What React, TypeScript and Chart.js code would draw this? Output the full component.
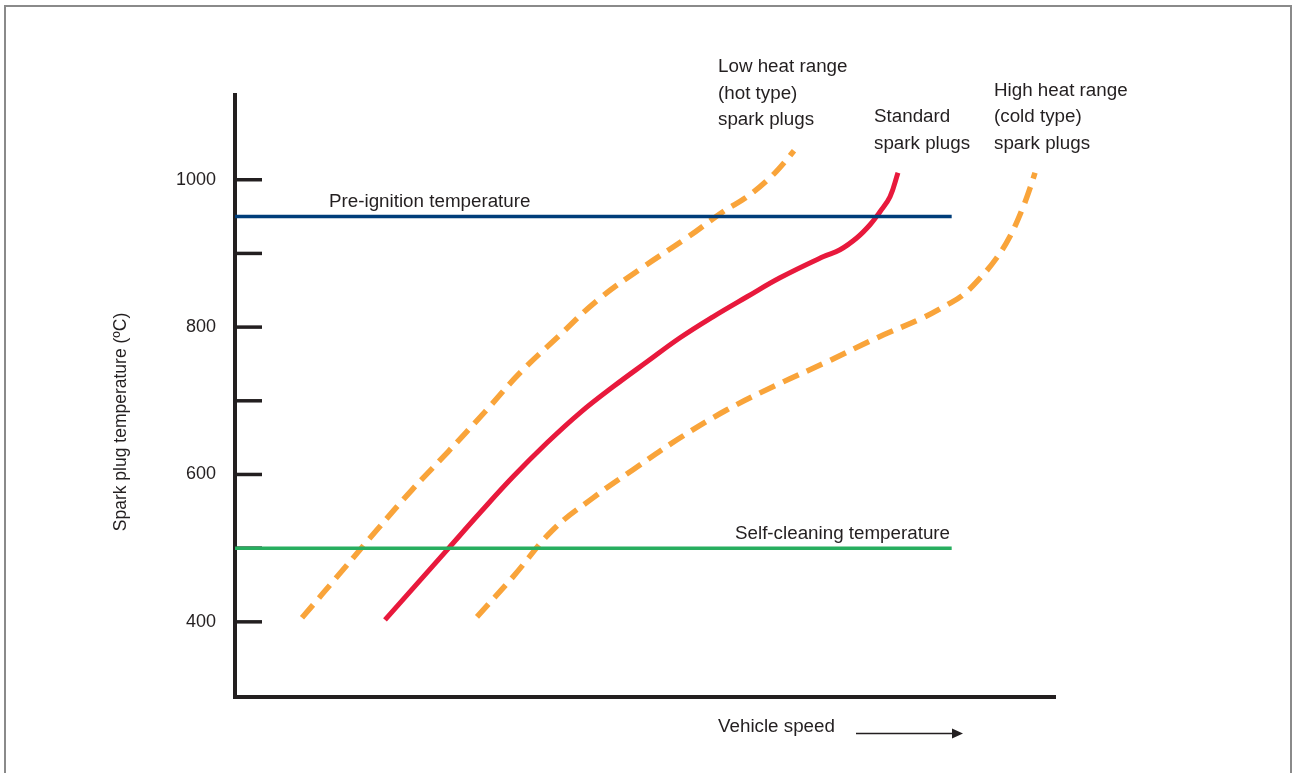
import React, { useEffect, useRef } from "react";
import { Chart, registerables } from "chart.js";

Chart.register(...registerables);

// ---- Data (speed in arbitrary units 0–100, temperature in °C) ----
const lowHeatSpeed = [8.17, 13.17, 17.32, 21.59, 25.98, 30.49, 34.76, 39.39, 44.27, 49.63, 55.12, 59.51, 62.44, 65.24, 67.07, 68.17];
const lowHeatTemp = [405.5, 470.6, 524.9, 579.2, 630.8, 685.1, 738.0, 786.9, 837.1, 880.5, 921.3, 956.6, 976.9, 1002.7, 1024.4, 1039.4];

const standardSpeed = [18.29, 25.98, 29.88, 33.9, 38.05, 42.07, 46.1, 50.24, 54.27, 58.29, 62.44, 66.46, 71.71, 73.78, 75.85, 77.44, 78.66, 79.88, 80.85];
const standardTemp = [402.7, 499.1, 548.0, 596.8, 643.0, 683.7, 719.0, 752.9, 785.5, 814.0, 841.2, 867.0, 895.5, 905.0, 921.3, 938.9, 956.6, 976.9, 1009.5];

const highHeatSpeed = [29.51, 33.9, 38.78, 43.66, 48.54, 53.9, 60.0, 66.1, 72.2, 78.29, 83.9, 86.8, 88.8, 90.9, 92.9, 94.5, 95.98, 97.0, 97.56];
const highHeatTemp = [406.8, 461.1, 524.9, 568.3, 606.4, 647.1, 687.8, 721.7, 752.9, 785.5, 812.7, 830.0, 843.9, 867.0, 894.1, 923.0, 959.3, 990.0, 1009.5];

const preIgnitionSpeed = [0, 87.4];
const preIgnitionTemp = [950, 950];
const selfCleaningSpeed = [0, 87.4];
const selfCleaningTemp = [500, 500];

const yTickValues = [400, 500, 600, 700, 800, 900, 1000];
const yLabeledTicks = [400, 600, 800, 1000];

const pts = (xs: number[], ys: number[]) => xs.map((x, i) => ({ x, y: ys[i] }));

const FONT = '"Liberation Sans", Arial, Helvetica, sans-serif';
const INK = "#231f20";

const decorPlugin = {
  id: "decor",
  beforeDatasetsDraw(chart: any) {
    const { ctx, chartArea, scales } = chart;
    const y = scales.y;
    ctx.save();
    ctx.strokeStyle = INK;
    ctx.lineWidth = 3.5;
    yTickValues.forEach((v) => {
      const py = y.getPixelForValue(v);
      ctx.beginPath();
      ctx.moveTo(chartArea.left, py);
      ctx.lineTo(chartArea.left + 27, py);
      ctx.stroke();
    });
    ctx.restore();
  },
  afterDraw(chart: any) {
    const { ctx } = chart;
    ctx.save();
    ctx.fillStyle = INK;
    ctx.font = `18.8px ${FONT}`;
    ctx.textAlign = "left";
    ctx.textBaseline = "alphabetic";
    const texts: [string, number, number][] = [
      ["Pre-ignition temperature", 329, 207],
      ["Self-cleaning temperature", 735, 539],
      ["Low heat range", 718, 72],
      ["(hot type)", 718, 98.5],
      ["spark plugs", 718, 125],
      ["Standard", 874, 122],
      ["spark plugs", 874, 148.5],
      ["High heat range", 994, 96],
      ["(cold type)", 994, 122],
      ["spark plugs", 994, 148.5],
      ["Vehicle speed", 718, 732],
    ];
    texts.forEach(([t, x, yy]) => ctx.fillText(t, x, yy));

    // y-axis title
    ctx.save();
    ctx.font = `17.5px ${FONT}`;
    ctx.translate(121, 422);
    ctx.rotate(-Math.PI / 2);
    ctx.textAlign = "center";
    ctx.textBaseline = "middle";
    ctx.fillText("Spark plug temperature (ºC)", 0, 0);
    ctx.restore();

    // arrow
    ctx.strokeStyle = INK;
    ctx.lineWidth = 1.5;
    ctx.beginPath();
    ctx.moveTo(856, 733.5);
    ctx.lineTo(954, 733.5);
    ctx.stroke();
    ctx.beginPath();
    ctx.moveTo(963, 733.5);
    ctx.lineTo(952, 728.5);
    ctx.lineTo(952, 738.5);
    ctx.closePath();
    ctx.fill();
    ctx.restore();
  },
};

export default function App() {
  const canvasRef = useRef<HTMLCanvasElement | null>(null);

  useEffect(() => {
    const canvas = canvasRef.current;
    if (!canvas) return;
    const orange = "#f9a43a";
    const chart = new Chart(canvas, {
      type: "line",
      data: {
        datasets: [
          {
            label: "Pre-ignition temperature",
            data: pts(preIgnitionSpeed, preIgnitionTemp),
            borderColor: "#003d7a",
            borderWidth: 3.5,
            pointRadius: 0,
          },
          {
            label: "Self-cleaning temperature",
            data: pts(selfCleaningSpeed, selfCleaningTemp),
            borderColor: "#27ae5f",
            borderWidth: 3.5,
            pointRadius: 0,
          },
          {
            label: "Low heat range (hot type) spark plugs",
            data: pts(lowHeatSpeed, lowHeatTemp),
            borderColor: orange,
            borderWidth: 5.5,
            borderDash: [17, 9],
            borderCapStyle: "butt",
            tension: 0.4,
            pointRadius: 0,
          },
          {
            label: "Standard spark plugs",
            data: pts(standardSpeed, standardTemp),
            borderColor: "#e8193c",
            borderWidth: 5,
            tension: 0.4,
            pointRadius: 0,
          },
          {
            label: "High heat range (cold type) spark plugs",
            data: pts(highHeatSpeed, highHeatTemp),
            borderColor: orange,
            borderWidth: 5.5,
            borderDash: [17, 9],
            borderCapStyle: "butt",
            tension: 0.4,
            pointRadius: 0,
          },
        ],
      },
      options: {
        animation: false,
        responsive: false,
        maintainAspectRatio: false,
        devicePixelRatio: 1,
        layout: { padding: { left: 0, top: 95, right: 237, bottom: 0 } },
        plugins: {
          legend: { display: false },
          tooltip: { enabled: false },
          title: { display: false },
        },
        scales: {
          x: {
            type: "linear",
            min: 0,
            max: 100,
            ticks: { display: false },
            grid: { display: true, drawOnChartArea: false, drawTicks: false },
            border: { display: true, color: INK, width: 4 },
            afterFit: (scale: any) => {
              scale.height = 76;
            },
          },
          y: {
            type: "linear",
            min: 298,
            max: 1115,
            afterBuildTicks: (scale: any) => {
              scale.ticks = yTickValues.map((v) => ({ value: v }));
            },
            ticks: {
              padding: 19,
              color: INK,
              font: { family: FONT, size: 18 },
              callback: (v: any) => (yLabeledTicks.includes(Number(v)) ? String(v) : ""),
            },
            grid: { display: true, drawOnChartArea: false, drawTicks: false },
            border: { display: true, color: INK, width: 4 },
            afterFit: (scale: any) => {
              scale.width = 235;
            },
          },
        },
      },
      plugins: [decorPlugin],
    });
    return () => chart.destroy();
  }, []);

  return (
    <div
      style={{
        position: "absolute",
        left: 0,
        top: 0,
        width: 1292,
        height: 773,
        background: "#ffffff",
        overflow: "hidden",
      }}
    >
      <div
        style={{
          position: "absolute",
          left: 4,
          top: 5,
          width: 1284,
          height: 800,
          border: "2px solid #8a8a8a",
        }}
      />
      <canvas
        ref={canvasRef}
        width={1292}
        height={773}
        style={{ position: "absolute", left: 0, top: 0, display: "block" }}
      />
    </div>
  );
}
